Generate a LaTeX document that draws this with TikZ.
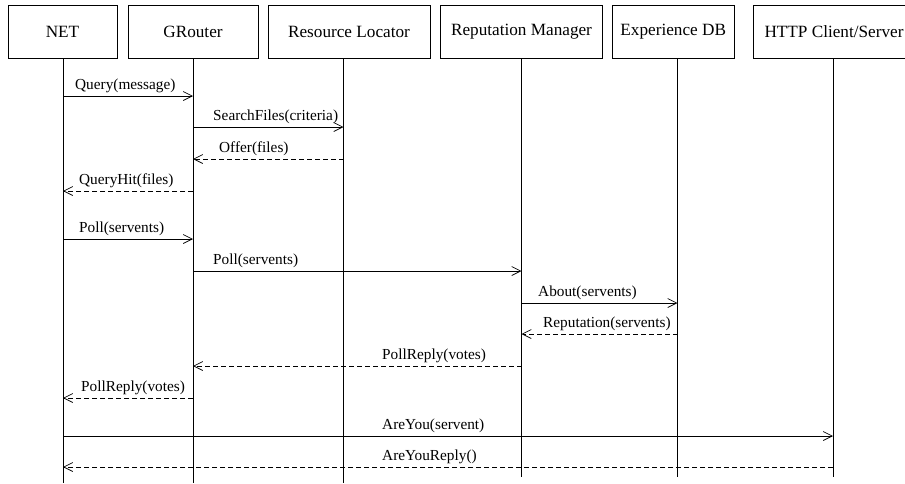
\documentclass[tikz,border=0pt]{standalone}
\usepackage{fontspec}
\setmainfont{Liberation Serif}
\usetikzlibrary{arrows.meta}

% one message between two lifelines: style, from, to, y, label x, label text
\newcommand\seqmsg[6]{%
  \draw[#1] (#2 |- 0,#4) -- (#3 |- 0,#4);
  \node[lbl] at (#5,#4-6.5) {#6};
}

\begin{document}
\begin{tikzpicture}[x=1pt,y=-1pt,
  box/.style={draw, line width=0.8pt, minimum height=53pt, inner sep=0pt,
              font=\fontsize{17.2}{20}\selectfont},
  lifeline/.style={line width=0.8pt},
  lbl/.style={anchor=base west, inner sep=0pt, font=\fontsize{15.3}{18}\selectfont},
  call/.style={line width=0.7pt, -{Straight Barb[length=9pt,width=9pt,line width=0.7pt]}},
  reply/.style={call, dash pattern=on 5pt off 3pt}]

\useasboundingbox (0,0) rectangle (905,483);
\clip (0,0) rectangle (905,483);

% participants
\node[box, minimum width=109pt]   (net)  at (62.5,31.5)  {NET};
\node[box, minimum width=130pt]   (gr)   at (193,31.5)   {GRouter};
\node[box, minimum width=162pt]   (rl)   at (349,31.5)   {Resource Locator};
\node[box, minimum width=162pt]   (rm)   at (521.5,31.5) {Reputation Manager};
\node[box, minimum width=121.5pt] (edb)  at (673.25,31.5){Experience DB};
\node[box, minimum width=162pt]   (http) at (834,31.5)   {HTTP Client/Server};

% lifelines
\coordinate (netL)  at (63,58);    \coordinate (netE)  at (63,483);
\coordinate (grL)   at (193,58);   \coordinate (grE)   at (193,483);
\coordinate (rlL)   at (343.5,58); \coordinate (rlE)   at (343.5,483);
\coordinate (rmL)   at (521.5,58); \coordinate (rmE)   at (521.5,477);
\coordinate (edbL)  at (677.5,58); \coordinate (edbE)  at (677.5,477);
\coordinate (httpL) at (833,58);   \coordinate (httpE) at (833,477);
\foreach \p in {net,gr,rl,rm,edb,http}
  \draw[lifeline] (\p L) -- (\p E);

% messages
\seqmsg{call} {netL}{grL}  {96} {75} {Query(message)}
\seqmsg{call} {grL} {rlL}  {127}{213}{SearchFiles(criteria)}
\seqmsg{reply}{rlL} {grL}  {159}{219}{Offer(files)}
\seqmsg{reply}{grL} {netL} {191}{79} {QueryHit(files)}
\seqmsg{call} {netL}{grL}  {239}{79} {Poll(servents)}
\seqmsg{call} {grL} {rmL}  {271}{213}{Poll(servents)}
\seqmsg{call} {rmL} {edbL} {303}{538}{About(servents)}
\seqmsg{reply}{edbL}{rmL}  {334}{543}{Reputation(servents)}
\seqmsg{reply}{rmL} {grL}  {366}{382}{PollReply(votes)}
\seqmsg{reply}{grL} {netL} {398}{81} {PollReply(votes)}
\seqmsg{call} {netL}{httpL}{436}{382}{AreYou(servent)}
\seqmsg{reply}{httpL}{netL}{467}{382}{AreYouReply()}
\end{tikzpicture}
\end{document}
